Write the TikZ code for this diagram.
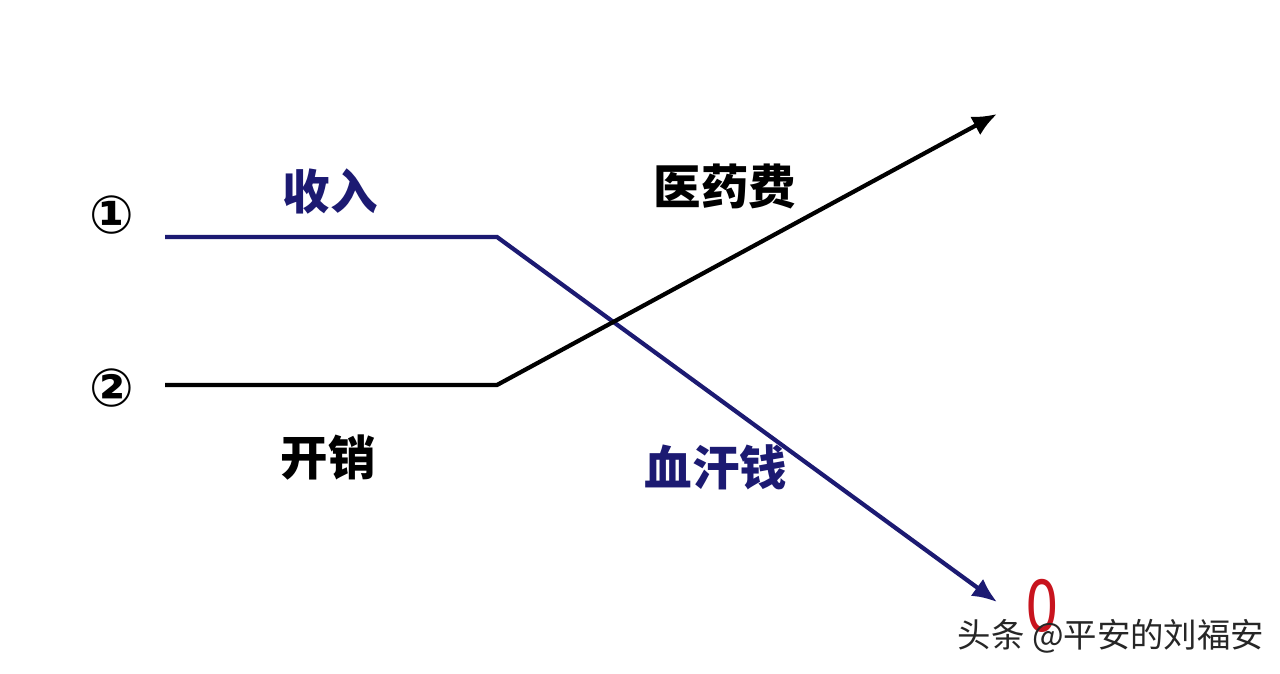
\documentclass[tikz,border=0pt]{standalone}
\usepackage{fontspec}
\setmainfont{DejaVu Sans}
\newfontfamily\cjk{Noto Sans CJK SC}
\usepackage{tikz}
\usetikzlibrary{arrows.meta, positioning}
\definecolor{navyline}{HTML}{1C1A72}
\definecolor{zeroRed}{HTML}{C8141E}

\begin{document}
\begin{tikzpicture}[x=0.01cm, y=-0.01cm, every node/.style={font=\cjk\bfseries\fontsize{13.5pt}{14pt}\selectfont, inner sep=0pt}]
                \useasboundingbox[fill=white] (0,0) rectangle (1280,674);
                % start marks
                \node (one) at (112,215) {\fontspec{DejaVu Sans}\bfseries\fontsize{15pt}{16pt}\selectfont ①};
                \node (two) at (112,388) {\fontspec{DejaVu Sans}\bfseries\fontsize{15pt}{16pt}\selectfont ②};
                % income line
                \coordinate (inStart) at (165,237);
                \coordinate (inBend) at (497,237);
                \coordinate (inEnd) at (997,602);
                \draw[navyline, line width=1.2pt, -{Latex[length=7pt,width=6pt]}] (inStart) -- (inBend) -- (inEnd);
                % expense line
                \coordinate (exStart) at (165,385);
                \coordinate (exBend) at (497,385);
                \coordinate (exEnd) at (997,114);
                \draw[black, line width=1.2pt, -{Latex[length=7pt,width=6pt]}] (exStart) -- (exBend) -- (exEnd);
                % labels
                \node[navyline] (income) at (330,192) {收入};
                \node (expense) at (328,458) {开销};
                \node (medical) at (725,186) {医药费};
                \node[navyline] (savings) at (716,467) {血汗钱};
                \node[zeroRed, font=\fontspec{DejaVu Sans}\fontsize{20pt}{21pt}\selectfont, xscale=0.75] (zero) at (1042,606) {0};
                \node[font=\cjk\fontsize{9.5pt}{10pt}\selectfont, text=black!85] (mark) at (1111,636) {头条 @平安的刘福安};
            \end{tikzpicture}
\end{document}
